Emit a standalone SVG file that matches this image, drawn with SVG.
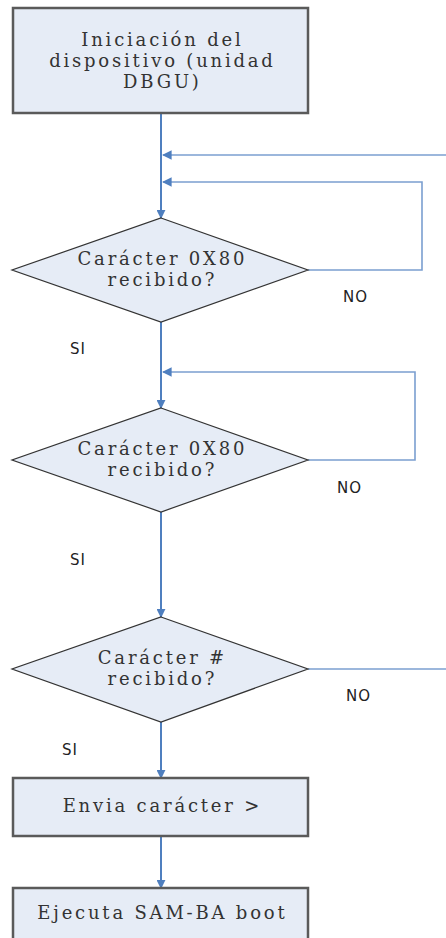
<svg xmlns="http://www.w3.org/2000/svg" width="446" height="938" viewBox="0 0 446 938">
<style>
.box{fill:#e6ecf6;stroke:#5a5a5a;stroke-width:2.5}
.dia{fill:#e6ecf6;stroke:#333;stroke-width:1.2}
.t{font-family:"DejaVu Serif","Liberation Serif",serif;font-size:18px;letter-spacing:2.8px;fill:#333;text-anchor:middle}
.l{font-family:"DejaVu Sans","Liberation Sans",sans-serif;font-size:15px;letter-spacing:1px;fill:#222}
.c{fill:none;stroke:#4f7fbf;stroke-width:2}
.lp{fill:none;stroke:#7b9fd0;stroke-width:1.6}
</style>
<defs>
<marker id="ah" viewBox="0 0 10 10" refX="9" refY="5" markerWidth="4.5" markerHeight="4.5" orient="auto" markerUnits="strokeWidth">
<path d="M0,0 L10,5 L0,10 z" fill="#4f7fbf"/>
</marker>
<marker id="ah2" viewBox="0 0 10 10" refX="9" refY="5" markerWidth="6" markerHeight="6" orient="auto" markerUnits="strokeWidth">
<path d="M0,0 L10,5 L0,10 z" fill="#4f7fbf"/>
</marker>
</defs>
<g id="connectors">
<path class="c" d="M161,113 V218" marker-end="url(#ah)"/>
<path class="lp" d="M446,155 H163" marker-end="url(#ah2)"/>
<path class="lp" d="M308,270 H422 V182 H163" marker-end="url(#ah2)"/>
<path class="c" d="M161,322 V408" marker-end="url(#ah)"/>
<path class="lp" d="M308,460 H415 V372 H163" marker-end="url(#ah2)"/>
<path class="c" d="M161,512 V617" marker-end="url(#ah)"/>
<path class="lp" d="M308,669 H446"/>
<path class="c" d="M161,722 V778" marker-end="url(#ah)"/>
<path class="c" d="M161,836 V888" marker-end="url(#ah)"/>
</g>
<g id="n1">
<rect class="box" x="13" y="8" width="295" height="105"/>
<text class="t" x="162.4" y="46">Iniciación del</text>
<text class="t" x="162.4" y="67">dispositivo (unidad</text>
<text class="t" x="162.4" y="88">DBGU)</text>
</g>
<g id="d1">
<polygon class="dia" points="161,218 308,270 161,322 12,270"/>
<text class="t" x="162.4" y="265">Carácter 0X80</text>
<text class="t" x="162.4" y="286">recibido?</text>
</g>
<g id="d2">
<polygon class="dia" points="161,408 308,460 161,512 12,460"/>
<text class="t" x="162.4" y="455">Carácter 0X80</text>
<text class="t" x="162.4" y="476">recibido?</text>
</g>
<g id="d3">
<polygon class="dia" points="161,617 308,669 161,722 12,669"/>
<text class="t" x="162.4" y="664">Carácter #</text>
<text class="t" x="162.4" y="685">recibido?</text>
</g>
<g id="n2">
<rect class="box" x="13" y="778" width="295" height="58"/>
<text class="t" x="162.4" y="812">Envia carácter &gt;</text>
</g>
<g id="n3">
<rect class="box" x="13" y="888" width="295" height="60"/>
<text class="t" x="162.4" y="919">Ejecuta SAM-BA boot</text>
</g>
<g id="labels">
<text class="l" x="343" y="302">NO</text>
<text class="l" x="70" y="354">SI</text>
<text class="l" x="337" y="493">NO</text>
<text class="l" x="70" y="565">SI</text>
<text class="l" x="346" y="701">NO</text>
<text class="l" x="62" y="755">SI</text>
</g>
</svg>
